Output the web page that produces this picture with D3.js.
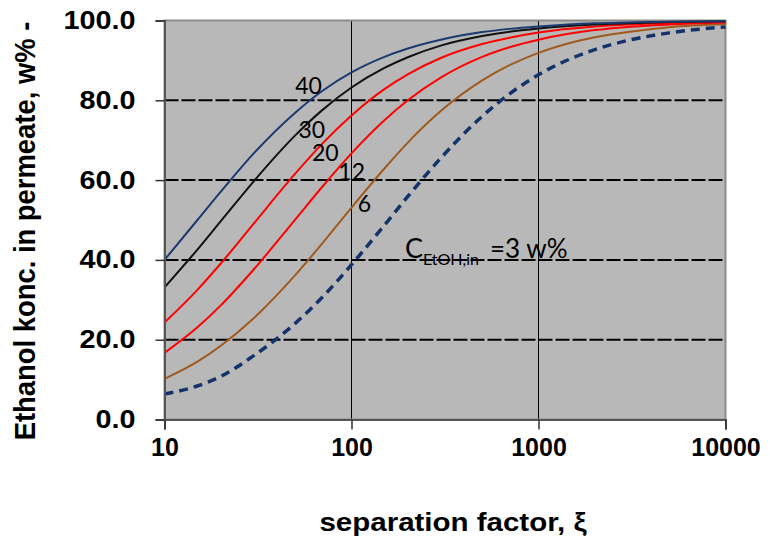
<!DOCTYPE html>
<html>
<head>
<meta charset="utf-8">
<script src="https://cdn.jsdelivr.net/npm/d3@7"></script>
<style>
  html, body { margin: 0; padding: 0; background: #fff; }
  svg { display: block; }
</style>
</head>
<body>
<svg id="chart" width="770" height="542"></svg>
<script>
// ---- data ----
const xi = [10, 15, 20, 30, 50, 70, 100, 150, 200, 300, 500, 700, 1000, 2000, 3000, 5000, 10000];
const c40 = [40.0, 50.0, 57.1, 66.7, 76.9, 82.4, 87.0, 90.9, 93.0, 95.2, 97.1, 97.9, 98.5, 99.3, 99.5, 99.7, 99.8];
const c30 = [33.1, 42.6, 49.7, 59.7, 71.2, 77.6, 83.2, 88.1, 90.8, 93.7, 96.1, 97.2, 98.0, 99.0, 99.3, 99.6, 99.8];
const c20 = [24.3, 32.5, 39.1, 49.1, 61.6, 69.2, 76.2, 82.8, 86.5, 90.6, 94.1, 95.7, 97.0, 98.5, 99.0, 99.4, 99.7];
const c12 = [16.7, 23.1, 28.6, 37.6, 50.1, 58.4, 66.7, 75.0, 80.0, 85.7, 90.9, 93.3, 95.2, 97.6, 98.4, 99.0, 99.5];
const c6  = [10.2, 14.5, 18.5, 25.4, 36.2, 44.2, 53.1, 62.9, 69.4, 77.3, 85.0, 88.8, 91.9, 95.8, 97.1, 98.3, 99.1];
const c3  = [6.4, 8.4, 10.8, 16.0, 24.1, 30.7, 38.8, 48.7, 55.9, 65.5, 76.0, 81.6, 86.4, 92.7, 95.0, 96.9, 98.4];

const xTicks = [10, 100, 1000, 10000];
const yTicks = [0, 20, 40, 60, 80, 100];
const seriesNames = ["40", "30", "20", "12", "6", "3"];
// label anchors in data units (ξ, w%)
const labelXi = [50, 52, 61.5, 85, 108];
const labelY = [81.6, 70.6, 64.8, 60.0, 52.0];

const yTitle = "Ethanol konc. in permeate, w% -";
const xTitle = "separation factor, ξ";

// ---- layout ----
const svg = d3.select("#chart");
const L = 164.5, R = 725.5, T = 20.5, B = 419.5;

const x = d3.scaleLog().domain([10, 10000]).range([L, R]);
const y = d3.scaleLinear().domain([0, 100]).range([B, T]);

// plot background
svg.append("rect").attr("x", L).attr("y", T).attr("width", R - L).attr("height", B - T)
  .attr("fill", "#b8b8b8");

// horizontal dashed gridlines
svg.append("g").selectAll("line").data(yTicks.filter(d => d > 0 && d < 100)).join("line")
  .attr("x1", L).attr("x2", R).attr("y1", d => y(d)).attr("y2", d => y(d))
  .attr("stroke", "#000").attr("stroke-width", 2).attr("stroke-dasharray", "14,3");

// vertical gridlines
svg.append("g").selectAll("line").data(xTicks.filter(d => d > 10 && d < 10000)).join("line")
  .attr("x1", d => x(d)).attr("x2", d => x(d)).attr("y1", T).attr("y2", B)
  .attr("stroke", "#000").attr("stroke-width", 1);

// plot border
svg.append("rect").attr("x", L).attr("y", T).attr("width", R - L).attr("height", B - T)
  .attr("fill", "none").attr("stroke", "#8c8c8c").attr("stroke-width", 2);

// series
const series = [
  { name: "3", vals: c3, color: "#14336b", w: 3.5, dash: "9,6" },
  { name: "6", vals: c6, color: "#a05a1e", w: 2, dash: null },
  { name: "12", vals: c12, color: "#ff0000", w: 2, dash: null },
  { name: "20", vals: c20, color: "#ff0000", w: 2, dash: null },
  { name: "30", vals: c30, color: "#111111", w: 2, dash: null },
  { name: "40", vals: c40, color: "#1c3a70", w: 2, dash: null }
];
const line = d3.line().x(d => x(d[0])).y(d => y(d[1])).curve(d3.curveMonotoneX);
svg.append("g").selectAll("path").data(series).join("path")
  .attr("d", s => line(xi.map((v, i) => [v, s.vals[i]])))
  .attr("fill", "none").attr("stroke", s => s.color).attr("stroke-width", s => s.w)
  .attr("stroke-dasharray", s => s.dash);

// axes
const yAxis = d3.axisLeft(y).tickValues(yTicks).tickFormat(d3.format(".1f")).tickSize(9).tickPadding(19);
const gy = svg.append("g").attr("transform", `translate(${L},0)`).call(yAxis);
gy.select(".domain").attr("stroke", "#555").attr("stroke-width", 2);
gy.selectAll(".tick line").attr("stroke", "#333").attr("stroke-width", 1.5);
gy.selectAll(".tick text").attr("font-family", "Liberation Sans, Arial, sans-serif")
  .attr("font-weight", "bold").attr("font-size", 25).attr("fill", "#000")
  .attr("transform", "scale(1.15,1)").attr("x", -29 / 1.15);

const xAxis = d3.axisBottom(x).tickValues(xTicks).tickFormat(d3.format("d")).tickSize(10).tickPadding(9);
const gx = svg.append("g").attr("transform", `translate(0,${B})`).call(xAxis);
gx.select(".domain").attr("stroke", "#555").attr("stroke-width", 2);
gx.selectAll(".tick line").attr("stroke", "#333").attr("stroke-width", 1.5);
gx.selectAll(".tick text").attr("font-family", "Liberation Sans, Arial, sans-serif")
  .attr("font-weight", "bold").attr("font-size", 25).attr("fill", "#000");

// series labels
svg.append("g").selectAll("text").data(labelXi).join("text")
  .attr("x", (d, i) => x(d)).attr("y", (d, i) => y(labelY[i]))
  .text((d, i) => seriesNames[i])
  .attr("font-family", "Lato, sans-serif").attr("font-size", 23).attr("fill", "#000");

// feed concentration label
const ft = svg.append("text").attr("x", x(193)).attr("y", y(40.5))
  .attr("font-family", "Lato, sans-serif").attr("font-size", 26).attr("fill", "#000");
ft.append("tspan").attr("font-size", 27).text("C");
ft.append("tspan").attr("font-size", 16).attr("dy", 7).text("EtOH,in");
ft.append("tspan").attr("dy", -7).attr("dx", 11).text("=" + seriesNames[5] + " w%");

// axis titles
svg.append("text").attr("transform", `translate(35,231) rotate(-90) scale(1,1.1)`)
  .attr("text-anchor", "middle").attr("font-family", "Liberation Sans, Arial, sans-serif")
  .attr("font-weight", "bold").attr("font-size", 27.4).attr("fill", "#000").text(yTitle);

svg.append("text").attr("transform", `translate(453,531) scale(1.18,1)`)
  .attr("text-anchor", "middle").attr("font-family", "Liberation Sans, Arial, sans-serif")
  .attr("font-weight", "bold").attr("font-size", 25).attr("fill", "#000").text(xTitle);
</script>
</body>
</html>
